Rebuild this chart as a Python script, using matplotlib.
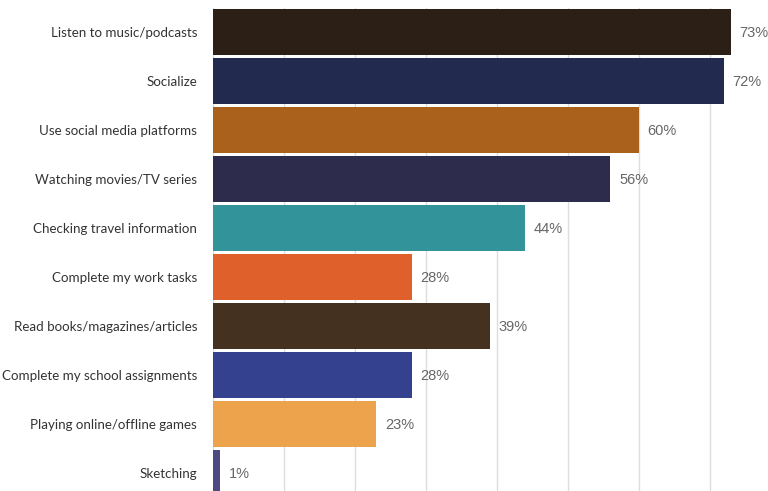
import numpy as np
import matplotlib.pyplot as plt

# date
activitati = [
    "Listen to music/podcasts",
    "Socialize",
    "Use social media platforms",
    "Watching movies/TV series",
    "Checking travel information",
    "Complete my work tasks",
    "Read books/magazines/articles",
    "Complete my school assignments",
    "Playing online/offline games",
    "Sketching",
]
procente = [73, 72, 60, 56, 44, 28, 39, 28, 23, 1]
culori = ["#2b1f16", "#222a50", "#a9611b", "#2d2c4d", "#32939a",
          "#e0602b", "#45311f", "#33418e", "#eda24c", "#4c4a80"]

fig = plt.figure(figsize=(7.68, 4.91), dpi=100)
ax = fig.add_axes([213 / 768, -6.5 / 491, 555 / 768, (491 - 7.5 + 6.5) / 491])

y = np.arange(len(activitati))
ax.barh(y, procente, height=0.94, color=culori, zorder=2)

for yi, v in zip(y, procente):
    ax.text(v + 1.2, yi + 0.03, f"{v}%", va="center", ha="left",
            fontsize=10.5, color="#666666", family="Liberation Sans")

ax.set_xlim(0, 78.2)
ax.set_ylim(len(activitati) - 0.5, -0.5)
ax.set_xticks(np.arange(0, 80, 10))
ax.xaxis.grid(True, color="#dddddd", linewidth=1, zorder=0)
ax.tick_params(axis="x", length=0, labelbottom=False)
ax.tick_params(axis="y", length=0, pad=11.5)
ax.set_yticks(y)
ax.set_yticklabels(activitati, fontsize=9.6, color="#333333", family="Lato")
for s in ax.spines.values():
    s.set_visible(False)

plt.savefig("out.png", dpi=100)
